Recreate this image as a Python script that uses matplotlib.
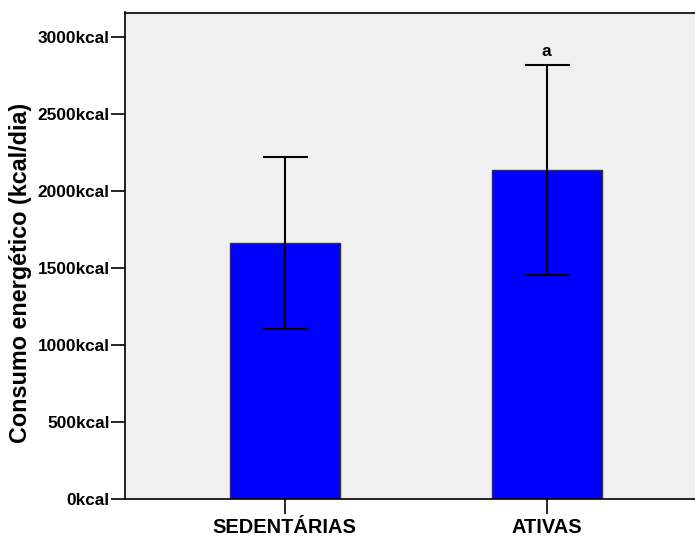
import matplotlib
matplotlib.use("Agg")
import matplotlib.pyplot as plt

categories = ["SEDENTÁRIAS", "ATIVAS"]
means = [1664, 2138]
sds = [558, 680]
yticks = [0, 500, 1000, 1500, 2000, 2500, 3000]
ytick_labels = [f"{v}kcal" for v in yticks]
annotations = ["", "a"]

plt.rcParams['font.family'] = ['Liberation Sans', 'DejaVu Sans']

fig = plt.figure(figsize=(6.95, 5.37), dpi=100)
ax = fig.add_axes([125/695, 1-499/537, (696-125)/695, (499-12.5)/537])
ax.set_facecolor('#f0f0f0')

x = list(range(len(categories)))
ax.bar(x, means, width=0.42, color='#0000ff', edgecolor='#333333', linewidth=1.0, zorder=2)
ax.errorbar(x, means, yerr=sds, fmt='none', ecolor='black', elinewidth=1.5,
            capsize=16.2, capthick=1.5, zorder=3)
for xi, m, s, t in zip(x, means, sds, annotations):
    if t:
        ax.text(xi, m + s + 40, t, ha='center', va='bottom', fontsize=12.5, fontweight='bold')

ax.set_xlim(-0.61, 1.57)
ax.set_ylim(0, 3162)
ax.set_yticks(yticks)
ax.set_yticklabels(ytick_labels, fontsize=12.4, fontweight='bold')
ax.set_xticks(x)
ax.set_xticklabels(categories, fontsize=14.4, fontweight='bold')
ax.tick_params(axis='both', width=1.2, color='black')
ax.tick_params(axis='y', length=10, pad=1)
ax.tick_params(axis='x', length=11, pad=2.5)
ax.set_ylabel("Consumo energético (kcal/dia)", fontsize=16.8, fontweight='bold')
ax.yaxis.set_label_coords(-0.162, 0.465)
for sp in ax.spines.values():
    sp.set_linewidth(1.2)
    sp.set_color('black')
ax.spines['right'].set_visible(False)

fig.savefig("out.png", dpi=100)
